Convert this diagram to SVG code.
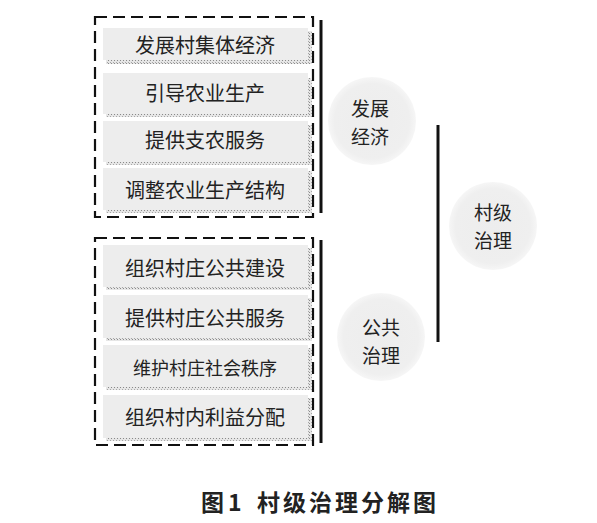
<svg xmlns="http://www.w3.org/2000/svg" width="597" height="523" viewBox="0 0 597 523">
<defs>
<pattern id="hatch" width="3" height="3" patternUnits="userSpaceOnUse">
<rect width="3" height="3" fill="#e6e6e6"/>
<rect width="1" height="1" fill="#8a8a8a"/>
<rect x="2" y="2" width="1" height="1" fill="#a8a8a8"/>
</pattern>
<radialGradient id="cg">
<stop offset="0" stop-color="#ededed"/>
<stop offset="0.85" stop-color="#efefef"/>
<stop offset="1" stop-color="#f6f6f6"/>
</radialGradient>
</defs>
<style>
.box{fill:#ededed}
.sh{fill:url(#hatch)}
.dash{fill:none;stroke:#111;stroke-width:2.2;stroke-dasharray:12 6}
.solid{stroke:#111;stroke-width:3}
.t{font-family:"Noto Sans CJK SC","Noto Sans CJK JP",sans-serif;font-size:20px;fill:#222;text-anchor:middle;dominant-baseline:central}
.ct{font-size:19px}
.c{fill:url(#cg)}
.cap{font-family:"Noto Sans CJK SC",sans-serif;font-size:23px;font-weight:bold;fill:#222;dominant-baseline:central;letter-spacing:3px}
</style>
<rect width="597" height="523" fill="#fff"/>
<g id="group-econ">
<rect class="dash" x="95" y="17" width="218" height="200"/>
<g id="n1"><rect class="sh" x="106" y="31" width="206" height="33"/><rect class="box" x="103" y="28" width="205" height="32"/><text class="t" x="205" y="44">发展村集体经济</text></g>
<g id="n2"><rect class="sh" x="106" y="78" width="206" height="39"/><rect class="box" x="103" y="73" width="205" height="41"/><text class="t" x="205" y="92">引导农业生产</text></g>
<g id="n3"><rect class="sh" x="106" y="125" width="206" height="40"/><rect class="box" x="103" y="121" width="205" height="41"/><text class="t" x="205" y="139">提供支农服务</text></g>
<g id="n4"><rect class="sh" x="106" y="171" width="206" height="42"/><rect class="box" x="103" y="168" width="205" height="42"/><text class="t" x="205" y="189">调整农业生产结构</text></g>
</g>
<g id="group-public">
<rect class="dash" x="95" y="238" width="218" height="207"/>
<g id="n5"><rect class="sh" x="106" y="248" width="206" height="42"/><rect class="box" x="103" y="245" width="205" height="42"/><text class="t" x="205" y="267">组织村庄公共建设</text></g>
<g id="n6"><rect class="sh" x="106" y="298" width="206" height="43"/><rect class="box" x="103" y="295" width="205" height="43"/><text class="t" x="205" y="317">提供村庄公共服务</text></g>
<g id="n7"><rect class="sh" x="106" y="348" width="206" height="42"/><rect class="box" x="103" y="345" width="205" height="42"/><text class="t" x="205" y="367" style="font-size:18px">维护村庄社会秩序</text></g>
<g id="n8"><rect class="sh" x="106" y="398" width="206" height="43"/><rect class="box" x="103" y="395" width="205" height="43"/><text class="t" x="205" y="416">组织村内利益分配</text></g>
</g>
<g id="connectors">
<line class="solid" x1="321" y1="20" x2="321" y2="213"/>
<line class="solid" x1="321" y1="240" x2="321" y2="443"/>
<line class="solid" x1="438" y1="125" x2="438" y2="342"/>
</g>
<g id="econ"><circle class="c" cx="372" cy="121" r="44"/><text class="t ct" x="370" y="107">发展</text><text class="t ct" x="370" y="135">经济</text></g>
<g id="root"><circle class="c" cx="493" cy="226" r="44"/><text class="t ct" x="493" y="211">村级</text><text class="t ct" x="493" y="239">治理</text></g>
<g id="public"><circle class="c" cx="381" cy="337" r="44"/><text class="t ct" x="381" y="326">公共</text><text class="t ct" x="381" y="354">治理</text></g>
<text class="cap" y="501"><tspan x="201">图</tspan><tspan x="228">1</tspan><tspan x="257">村级治理分解图</tspan></text>
</svg>
